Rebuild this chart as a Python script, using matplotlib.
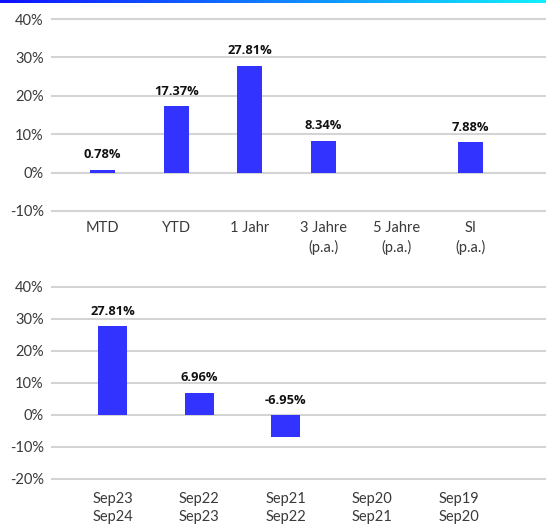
import numpy as np
import matplotlib
matplotlib.use("Agg")
import matplotlib.pyplot as plt
import matplotlib.transforms as mtransforms
from matplotlib.colors import LinearSegmentedColormap

# ---- data ----
top_categories = ["MTD", "YTD", "1 Jahr", "3 Jahre\n(p.a.)", "5 Jahre\n(p.a.)", "SI\n(p.a.)"]
top_values = [0.78, 17.37, 27.81, 8.34, np.nan, 7.88]
bottom_categories = ["Sep23\nSep24", "Sep22\nSep23", "Sep21\nSep22", "Sep20\nSep21", "Sep19\nSep20"]
bottom_values = [27.81, 6.96, -6.95, np.nan, np.nan]
top_yticks = [-10, 0, 10, 20, 30, 40]
bottom_yticks = [-20, -10, 0, 10, 20, 30, 40]

BAR_COLOR = "#3333ff"
GRID_COLOR = "#d4d4d4"
TICK_FONT = "Lato"
VAL_FONT = "Open Sans"
TICK_COLOR = "#3a3a3a"

W, H = 546, 524
fig = plt.figure(figsize=(W / 100, H / 100), dpi=100)

# gradient line at top
gax = fig.add_axes([0, 1 - 3 / H, 1, 3 / H])
cmap = LinearSegmentedColormap.from_list("g", ["#1010ff", "#1080ff", "#10f0ff"])
gax.imshow(np.linspace(0, 1, 256)[None, :], aspect="auto", cmap=cmap)
gax.axis("off")


def make_panel(rect, cats, vals, yticks, xlim, barw, xpad):
    ax = fig.add_axes(rect)
    x = np.arange(len(cats))
    ax.set_xlim(*xlim)
    ax.set_ylim(yticks[0], yticks[-1])
    ax.set_yticks(yticks)
    ax.set_yticklabels([f"{t}%" for t in yticks], fontfamily=TICK_FONT,
                       fontsize=10.5, color=TICK_COLOR)
    for t in yticks:
        ax.axhline(t, color=GRID_COLOR, lw=1.5, zorder=0, clip_on=False)
    v = np.array(vals, dtype=float)
    ax.bar(x, np.nan_to_num(v), width=barw, color=BAR_COLOR, zorder=2)
    for xi, vi in zip(x, v):
        if np.isnan(vi):
            continue
        base = max(vi, 0)
        ax.annotate(f"{vi:.2f}%", (xi, base), xytext=(0, 6), textcoords="offset points",
                    ha="center", va="bottom", fontfamily=VAL_FONT, fontweight="bold",
                    fontsize=9.3, color="#111111")
    ax.set_xticks(x)
    ax.set_xticklabels(cats, fontfamily=TICK_FONT, fontsize=10.5,
                       color=TICK_COLOR, linespacing=1.45)
    offset = mtransforms.ScaledTranslation(13 / 100, 0, fig.dpi_scale_trans)
    for lab in ax.get_xticklabels():
        lab.set_transform(lab.get_transform() + offset)
        lab.set_multialignment("center")
    ax.tick_params(axis="both", length=0)
    ax.tick_params(axis="x", pad=xpad)
    ax.tick_params(axis="y", pad=6)
    for s in ax.spines.values():
        s.set_visible(False)
    return ax


left = 52 / W
make_panel([left, 1 - 211 / H, 1 - left, (211 - 19) / H], top_categories, top_values,
           top_yticks, (-0.69, 6.03), 0.34, 7)
make_panel([left, 1 - 479 / H, 1 - left, (479 - 287) / H], bottom_categories, bottom_values,
           bottom_yticks, (-0.70, 5.01), 0.335, 9)

fig.savefig("out.png", dpi=100)
